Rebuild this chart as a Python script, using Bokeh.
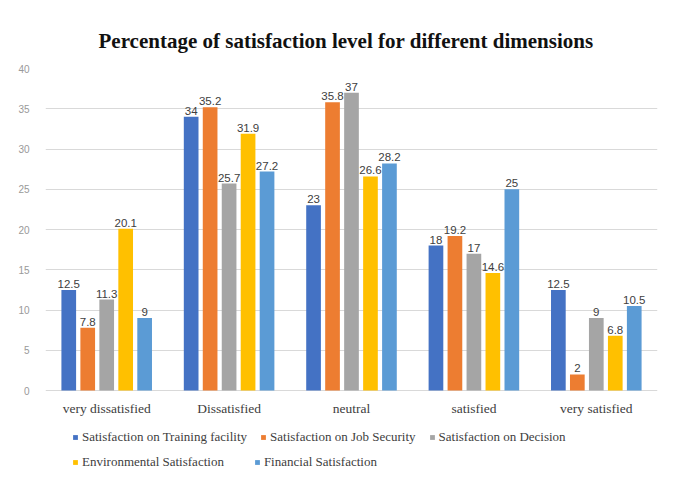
from bokeh.plotting import figure
from bokeh.models import ColumnDataSource, FactorRange, Legend, LegendItem, Range1d
from bokeh.transform import dodge
from bokeh.core.properties import value
from bokeh.embed import file_html
from bokeh.resources import INLINE

categories = ["very dissatisfied", "Dissatisfied", "neutral", "satisfied", "very satisfied"]
series_names = ["Satisfaction on Training facility", "Satisfaction on Job Security",
                "Satisfaction on Decision", "Environmental Satisfaction", "Financial Satisfaction"]
training = [12.5, 34, 23, 18, 12.5]
job_security = [7.8, 35.2, 35.8, 19.2, 2]
decision = [11.3, 25.7, 37, 17, 9]
environmental = [20.1, 31.9, 26.6, 14.6, 6.8]
financial = [9, 27.2, 28.2, 25, 10.5]
y_ticks = [0, 5, 10, 15, 20, 25, 30, 35, 40]

colors = ["#4472C4", "#ED7D31", "#A5A5A5", "#FFC000", "#5B9BD5"]
offsets = [-0.31, -0.155, 0.0, 0.155, 0.31]
keys = ["s0", "s1", "s2", "s3", "s4"]
all_series = [training, job_security, decision, environmental, financial]

data = {"cat": categories, "zero": [0] * len(categories)}
for k, s in zip(keys, all_series):
    data[k] = s
    data[k + "_lbl"] = [("%g" % v) for v in s]
source = ColumnDataSource(data)

# frame extends below the value axis to host category labels and legend
p = figure(x_range=FactorRange(*categories), y_range=Range1d(-10.68, 40), width=665, height=478,
           output_backend="svg", toolbar_location=None,
           min_border_left=45, min_border_right=8, min_border_top=68, min_border_bottom=2)

items = []
for k, name, c, off in zip(keys, series_names, colors, offsets):
    r = p.vbar(x=dodge("cat", off, range=p.x_range), top=k, width=0.12, source=source,
               fill_color=c, line_color=None)
    p.text(x=dodge("cat", off, range=p.x_range), y=k, text=k + "_lbl", source=source,
           text_align="center", text_baseline="bottom", y_offset=-2,
           text_font=value("Liberation Sans"), text_font_size="11.5px", text_color="#404040")
    items.append(LegendItem(label=name, renderers=[r]))

# category labels
p.text(x="cat", y="zero", text="cat", source=source, text_align="center",
       text_baseline="middle", y_offset=18, text_font=value("Liberation Serif"),
       text_font_size="13.5px", text_color="#404040")

p.title.text = "Percentage of satisfaction level for different dimensions"
p.title.align = "left"
p.title.offset = 53
p.title.text_font = "Liberation Serif"
p.title.text_font_style = "bold"
p.title.text_font_size = "21px"
p.title.text_color = "#111111"
p.title.standoff = 31

p.outline_line_color = None
p.xgrid.grid_line_color = None
p.ygrid.grid_line_color = "#d9d9d9"
p.ygrid.ticker = y_ticks
p.yaxis.ticker = y_ticks
p.yaxis.axis_line_color = None
p.yaxis.major_tick_line_color = None
p.yaxis.minor_tick_line_color = None
p.yaxis.major_label_text_font = "Liberation Sans"
p.yaxis.major_label_text_font_size = "10px"
p.yaxis.major_label_text_color = "#999999"
p.yaxis.major_label_standoff = 10
p.xaxis.visible = False

legend_style = dict(orientation="horizontal", label_text_font="Liberation Serif",
                    label_text_font_size="13px", label_text_color="#404040",
                    glyph_width=6, glyph_height=6, label_height=20, label_standoff=4,
                    padding=0, margin=0, border_line_color=None, background_fill_alpha=0)
legend1 = Legend(items=items[:3], location=(27, 29), spacing=13, **legend_style)
legend2 = Legend(items=items[3:], location=(27, 4), spacing=30, **legend_style)
p.add_layout(legend1, "center")
p.add_layout(legend2, "center")

open("out.html", "w").write(file_html(p, INLINE))
